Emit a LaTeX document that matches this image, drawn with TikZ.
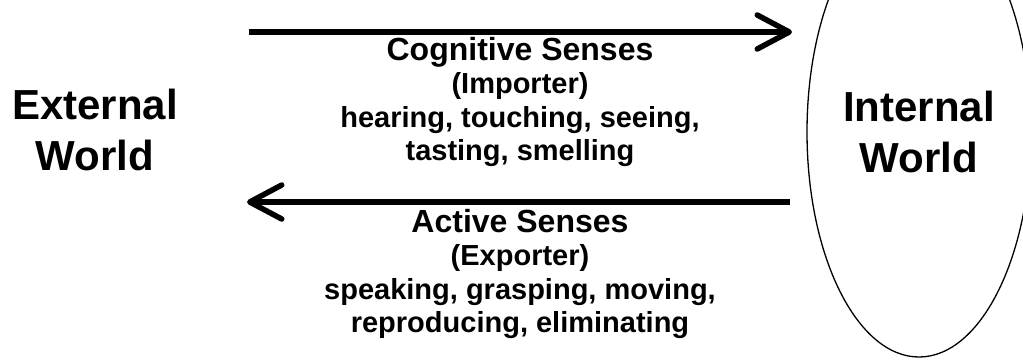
\documentclass[tikz,border=0pt]{standalone}
\usepackage{fontspec}
\setmainfont{Liberation Sans}
\usepackage{tikz}
\usetikzlibrary{arrows.meta, shapes.geometric}
\tikzset{
  world/.style={font=\bfseries\fontsize{42}{51}\selectfont, align=center, inner sep=0pt},
  sense/.style={font=\bfseries\fontsize{29}{33.5}\selectfont, align=center, inner sep=0pt, anchor=north},
  flow/.style={line width=5.5pt, -{Straight Barb[length=32pt, width=34pt, round]}}
}
\newcommand{\sensehead}[1]{{\fontsize{32}{33.5}\selectfont #1}}

\begin{document}
\begin{tikzpicture}[x=1pt, y=-1pt]
\useasboundingbox (0,0) rectangle (1023,360);
\clip (0,0) rectangle (1023,360);
% ======== the two worlds ========
\node[world] (outer) at (95,130) {External\\World};
\node[world, ellipse, draw, line width=1.3pt, minimum width=224pt, minimum height=450pt] (inner) at (919,132) {Internal\\World};
% ======== arrow ends ========
\coordinate (cogL) at (249,32);
\coordinate (cogR) at (792,32);
\coordinate (actR) at (790,202);
\coordinate (actL) at (247,202);
% ======== importer: outside -> inside ========
\draw[flow] (cogL) -- (cogR);
\node[sense] (cog) at (520,36.7) {\sensehead{Cognitive Senses}\\(Importer)\\hearing, touching, seeing,\\tasting, smelling};
% ======== exporter: inside -> outside ========
\draw[flow] (actR) -- (actL);
\node[sense] (act) at (520,208.7) {\sensehead{Active Senses}\\(Exporter)\\speaking, grasping, moving,\\reproducing, eliminating};
\end{tikzpicture}
\end{document}
